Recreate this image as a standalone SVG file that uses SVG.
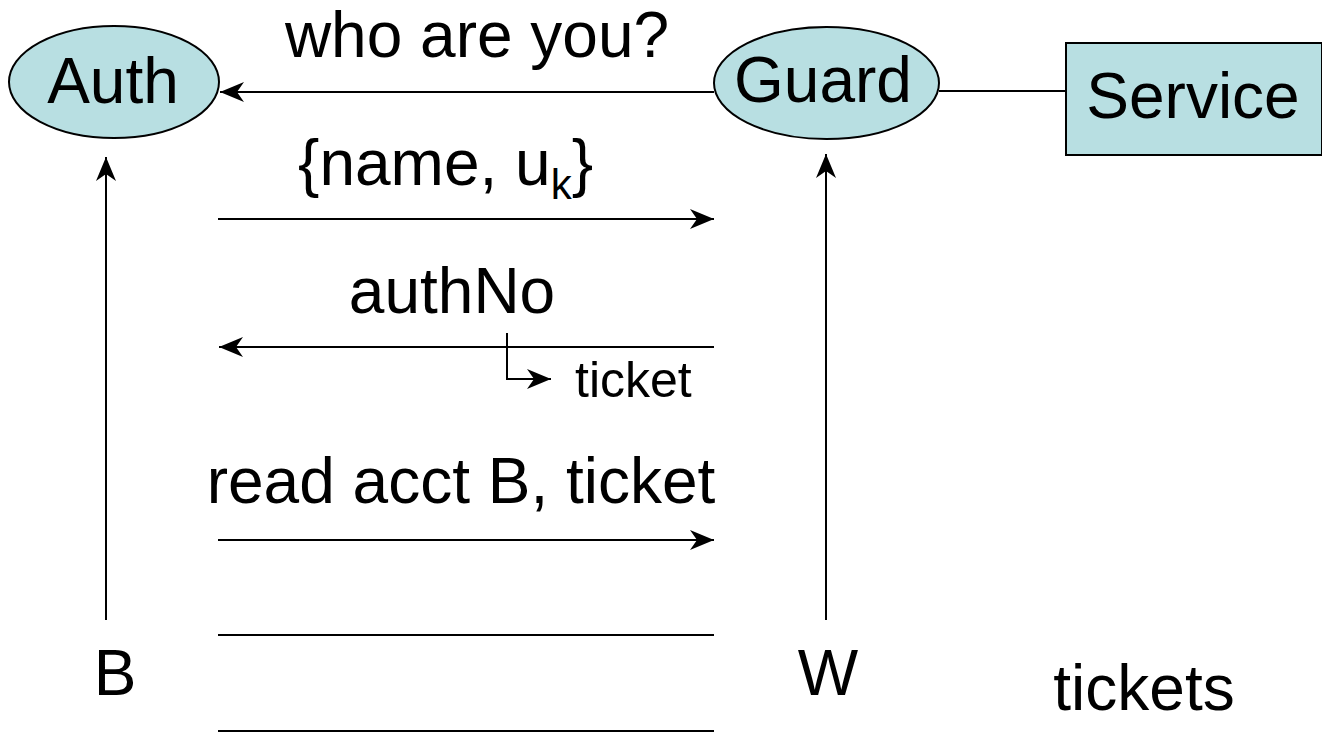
<svg xmlns="http://www.w3.org/2000/svg" width="1322" height="732" viewBox="0 0 1322 732">
<style>
text{font-family:"Liberation Sans",Arial,sans-serif;fill:#000}
.big{font-size:64px}
.node{fill:#b8dfe2;stroke:#000;stroke-width:2}
.c{stroke:#000;stroke-width:2;fill:none}
</style>
<defs>
<marker id="ah" markerWidth="26" markerHeight="22" refX="24" refY="10" orient="auto" markerUnits="userSpaceOnUse">
<path d="M0,0 L24,10 L0,20 L7,10 Z" fill="#000"/>
</marker>
</defs>
<rect width="1322" height="732" fill="#fff"/>
<g id="connectors">
<line class="c" x1="714" y1="92" x2="220" y2="92" marker-end="url(#ah)"/>
<line class="c" x1="939" y1="91" x2="1066" y2="91"/>
<line class="c" x1="218" y1="219" x2="714" y2="219" marker-end="url(#ah)"/>
<line class="c" x1="714" y1="347" x2="219" y2="347" marker-end="url(#ah)"/>
<polyline class="c" points="507,333 507,379 551,379" marker-end="url(#ah)"/>
<line class="c" x1="218" y1="540" x2="714" y2="540" marker-end="url(#ah)"/>
<line class="c" x1="218" y1="635" x2="714" y2="635"/>
<line class="c" x1="218" y1="731" x2="714" y2="731"/>
<line class="c" x1="106" y1="620" x2="106" y2="157" marker-end="url(#ah)"/>
<line class="c" x1="826" y1="620" x2="826" y2="154" marker-end="url(#ah)"/>
</g>
<g id="auth">
<ellipse class="node" cx="114" cy="82" rx="105" ry="56"/>
<text class="big" x="113" y="103" text-anchor="middle">Auth</text>
</g>
<g id="guard">
<ellipse class="node" cx="826.5" cy="83" rx="112.5" ry="56"/>
<text class="big" x="823" y="102" text-anchor="middle">Guard</text>
</g>
<g id="service">
<rect class="node" x="1066" y="43" width="256" height="112"/>
<text class="big" x="1193" y="118" text-anchor="middle">Service</text>
</g>
<g id="labels">
<text class="big" x="477" y="57" text-anchor="middle">who are you?</text>
<text class="big" x="298" y="185">{name, u<tspan font-size="42" dy="14">k</tspan><tspan dy="-14">}</tspan></text>
<text class="big" x="452" y="313" text-anchor="middle">authNo</text>
<text x="575" y="397" font-size="50">ticket</text>
<text class="big" x="461" y="503" text-anchor="middle">read acct B, ticket</text>
<text class="big" x="115" y="695" text-anchor="middle">B</text>
<text class="big" x="828" y="695" text-anchor="middle">W</text>
<text class="big" x="1144" y="710" text-anchor="middle">tickets</text>
</g>
</svg>
